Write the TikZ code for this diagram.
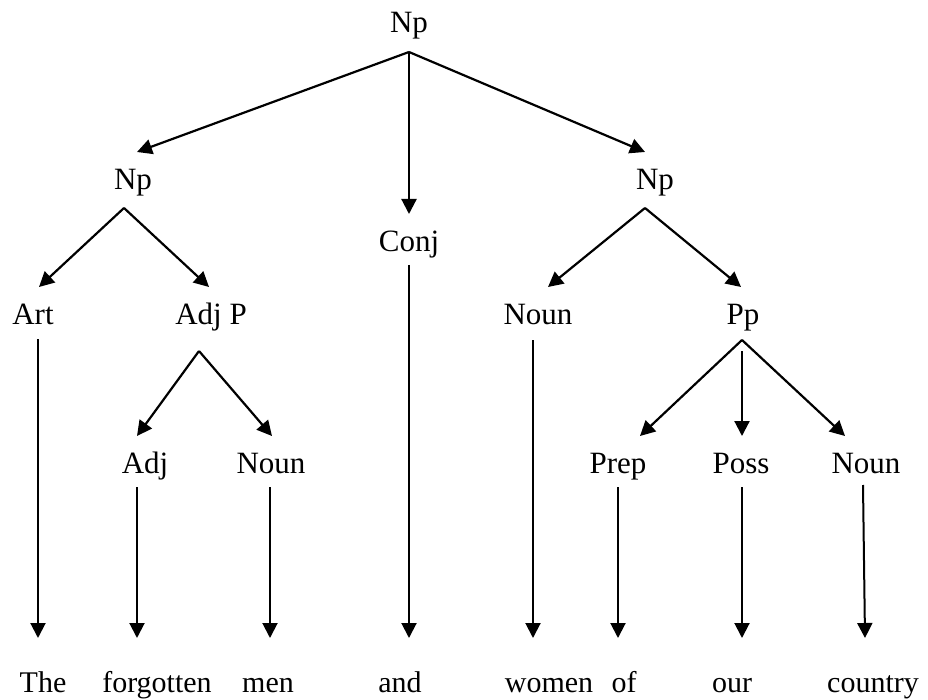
\documentclass[tikz,border=0pt]{standalone}
\usepackage{fontspec}
\setmainfont{Liberation Serif}
\usetikzlibrary{arrows.meta}
\begin{document}
\begin{tikzpicture}[x=1pt,y=-1pt,
  lbl/.style={anchor=base,inner sep=0pt,font=\fontsize{31}{36}\selectfont},
  word/.style={anchor=base,inner sep=0pt,font=\fontsize{30}{36}\selectfont},
  tip/.style={-{Triangle[length=15pt,width=15pt]}},
  edge/.style={tip,line width=2.2pt},
  leaf/.style={tip,line width=2pt}]
\useasboundingbox (0,0) rectangle (928,700);

% category labels
\node[lbl] (top)   at (409,33)  {Np};
\node[lbl] (npL)   at (133,190) {Np};
\node[lbl] (npR)   at (655,190) {Np};
\node[lbl] (conj)  at (409,252) {Conj};
\node[lbl] (art)   at (33,324)  {Art};
\node[lbl] (adjp)  at (211,324) {Adj P};
\node[lbl] (nounA) at (538,324) {Noun};
\node[lbl] (pp)    at (743,324) {Pp};
\node[lbl] (adj)   at (145,473) {Adj};
\node[lbl] (nounB) at (271,473) {Noun};
\node[lbl] (prep)  at (618,473) {Prep};
\node[lbl] (poss)  at (741,473) {Poss};
\node[lbl] (nounC) at (866,473) {Noun};

% words of the sentence
\node[word] (wThe)  at (43,692)  {The};
\node[word] (wForg) at (157,692) {forgotten};
\node[word] (wMen)  at (268,692) {men};
\node[word] (wAnd)  at (400,692) {and};
\node[word] (wWom)  at (549,692) {women};
\node[word] (wOf)   at (624,692) {of};
\node[word] (wOur)  at (732,692) {our};
\node[word] (wCtry) at (873,692) {country};

% branching points below each label and arrow tips above each child
\coordinate (top-out)   at (409,52);
\coordinate (npL-in)    at (137,152);
\coordinate (conj-in)   at (409,214);
\coordinate (npR-in)    at (645,152);
\coordinate (npL-out)   at (124,208);
\coordinate (art-in)    at (39,287);
\coordinate (adjp-in)   at (209,287);
\coordinate (npR-out)   at (645,208);
\coordinate (nounA-in)  at (548,287);
\coordinate (pp-in)     at (741,287);
\coordinate (conj-out)  at (409,265);
\coordinate (art-out)   at (38,339);
\coordinate (adjp-out)  at (199,351);
\coordinate (adj-in)    at (137,436);
\coordinate (nounB-in)  at (272,436);
\coordinate (nounA-out) at (533,340);
\coordinate (pp-out)    at (742,340);
\coordinate (poss-top)  at (742,351);
\coordinate (prep-in)   at (640,436);
\coordinate (poss-in)   at (742,436);
\coordinate (nounC-in)  at (845,436);
\coordinate (adj-out)   at (137,487);
\coordinate (nounB-out) at (270,487);
\coordinate (prep-out)  at (618,487);
\coordinate (poss-out)  at (742,487);
\coordinate (nounC-out) at (863,485);
\foreach \w/\x in {wThe/38,wForg/137,wMen/270,wAnd/409,wWom/533,wOf/618,wOur/742,wCtry/865}
  \coordinate (\w-in) at (\x,638);

% tree edges
\draw[edge] (top-out) -- (npL-in);
\draw[edge] (top-out) -- (conj-in);
\draw[edge] (top-out) -- (npR-in);
\draw[edge] (npL-out) -- (art-in);
\draw[edge] (npL-out) -- (adjp-in);
\draw[edge] (npR-out) -- (nounA-in);
\draw[edge] (npR-out) -- (pp-in);
\draw[edge] (adjp-out) -- (adj-in);
\draw[edge] (adjp-out) -- (nounB-in);
\draw[edge] (pp-out) -- (prep-in);
\draw[edge] (poss-top) -- (poss-in);
\draw[edge] (pp-out) -- (nounC-in);

% lexical edges down to the words
\draw[leaf] (conj-out)  -- (wAnd-in);
\draw[leaf] (art-out)   -- (wThe-in);
\draw[leaf] (nounA-out) -- (wWom-in);
\draw[leaf] (adj-out)   -- (wForg-in);
\draw[leaf] (nounB-out) -- (wMen-in);
\draw[leaf] (prep-out)  -- (wOf-in);
\draw[leaf] (poss-out)  -- (wOur-in);
\draw[leaf] (nounC-out) -- (wCtry-in);
\end{tikzpicture}
\end{document}
